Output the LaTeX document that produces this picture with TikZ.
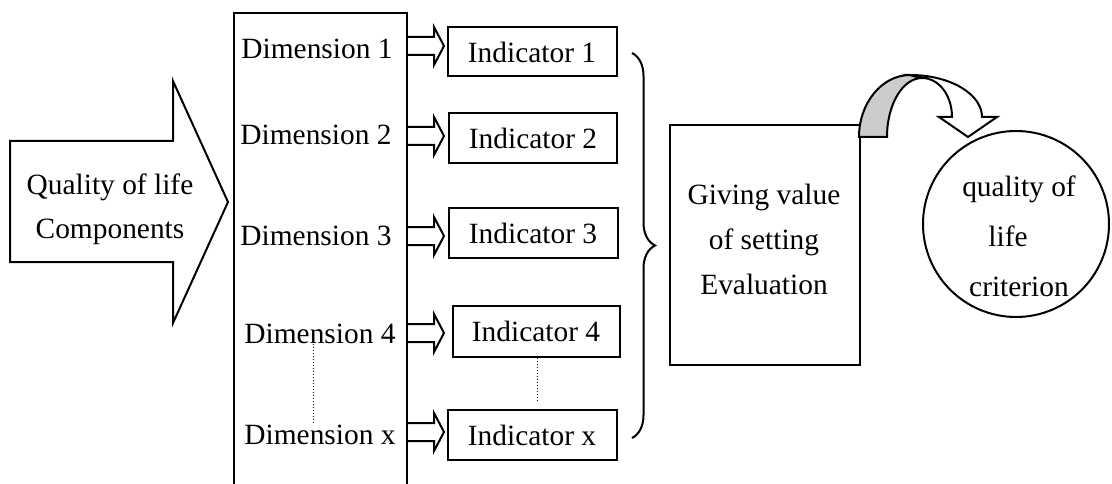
\documentclass[tikz,border=0pt]{standalone}
\usepackage{fontspec}
\setmainfont{Liberation Serif}
\usepackage{tikz}
\usetikzlibrary{
  positioning,
  calc,
  decorations.pathreplacing
}

\tikzset{
  box/.style={draw, rectangle, inner sep=0pt},
  txt/.style={inner sep=0pt, anchor=base},
  hollowarrow/.pic={
    \draw[fill=white] (0,-9) -- (26,-9) -- (26,-19) -- (36,0) -- (26,19) -- (26,9) -- (0,9);
  }
}

\begin{document}
\begin{tikzpicture}[x=1pt, y=-1pt, line width=2pt,
  font=\fontsize{29.4}{44}\selectfont]
  \useasboundingbox (0,0) rectangle (1112,484);

  % 左の大きな矢印
  \draw (10,141) -- (173,141) -- (173,81) -- (228,202) -- (173,323) -- (173,262) -- (10,262) -- cycle;
  \node[txt, align=center, anchor=north] (comp) at (110,173) {Quality of life\\Components};

  % 次元の枠
  \node[box, minimum width=173, minimum height=480, anchor=north west] (dims) at (233,12) {};
  \node[txt] (dim1) at (317,59) {Dimension 1};
  \node[txt] (dim2) at (316,145) {Dimension 2};
  \node[txt] (dim3) at (316,245) {Dimension 3};
  \node[txt] (dim4) at (320,343) {Dimension 4};
  \node[txt] (dimx) at (320,444) {Dimension x};

  % 指標
  \node[box, minimum width=169, minimum height=49] (ind1) at (532,52) {Indicator 1};
  \node[box, minimum width=168, minimum height=50] (ind2) at (533,138) {Indicator 2};
  \node[box, minimum width=169, minimum height=50] (ind3) at (533,233) {Indicator 3};
  \node[box, minimum width=167, minimum height=51] (ind4) at (536,331) {Indicator 4};
  \node[box, minimum width=169, minimum height=50] (indx) at (532,435) {Indicator x};

  % 白抜きの矢印
  \foreach \yy in {46,136,236,333,432}
    \pic at (dims.east |- 0,\yy) {hollowarrow};

  % 省略の点線
  \draw[dotted, line width=1pt] (dim4.south -| 313,0) -- (dimx.north -| 313,0);
  \draw[dotted, line width=1pt] (ind4.south -| 537,0) -- ([yshift=7pt]indx.north -| 537,0);

  % 中括弧
  \coordinate (btop) at (632,53);
  \coordinate (bbot) at (632,438);
  \draw[decorate, decoration={brace, amplitude=23pt}] (btop) -- (bbot);

  % 評価の枠
  \node[box, minimum width=190, minimum height=240] (evalb) at (765,245) {};
  \node[txt, align=center, anchor=north, font=\fontsize{29.4}{45}\selectfont] (evaltxt) at (764,183)
    {Giving value\\of setting\\Evaluation};

  % 基準の円
  \node[draw, circle, minimum size=186, inner sep=0pt] (crit) at (1016,224) {};
  \node[txt, align=center, anchor=north, font=\fontsize{29.4}{50}\selectfont] (crittxt) at (1019,175)
    {quality of\\\hspace*{-22pt}life\\criterion};

  % 曲がった矢印
  \draw[fill=black!20] (859,137) .. controls (859,103) and (882,75) .. (910,75)
    -- (922,78) .. controls (903,78) and (887,104) .. (887,137) -- cycle;
  \draw[fill=white] (910,75) .. controls (950,75) and (982,94) .. (982,117)
    -- (997,117) -- (968,137) -- (939,117) -- (952,117)
    .. controls (952,95.5) and (939,78) .. (922,78) -- cycle;
\end{tikzpicture}
\end{document}
